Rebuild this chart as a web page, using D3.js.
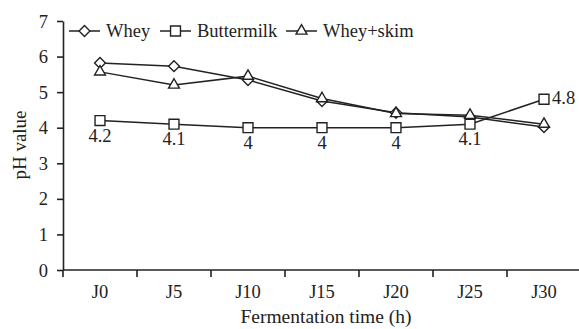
<!DOCTYPE html>
<html><head><meta charset="utf-8">
<script src="https://cdn.jsdelivr.net/npm/d3@7"></script>
<style>body{margin:0;background:#fff}svg{display:block}svg text{font-family:"Liberation Serif","Times New Roman",serif !important;fill:#222}</style>
</head><body><svg id="c" width="579" height="329" font-family="Liberation Serif"></svg>
<script>
const categories = ["J0","J5","J10","J15","J20","J25","J30"];
const whey = [5.82,5.73,5.34,4.75,4.42,4.3,4.02];
const buttermilk = [4.2,4.1,4.0,4.0,4.0,4.1,4.8];
const wheySkim = [5.57,5.2,5.45,4.82,4.4,4.35,4.1];
const buttermilkLabels = ["4.2","4.1","4","4","4","4.1","4.8"];
const yTicks = [0,1,2,3,4,5,6,7];

const FONT = "Liberation Serif";
const FS = 18.5;
const svg = d3.select("#c");
const x = d3.scaleBand().domain(categories).range([63,581]);
const y = d3.scaleLinear().domain([0,7]).range([270,21]);
const col = "#222";

// y axis
const ya = svg.append("g").attr("transform","translate(63,0)").call(d3.axisLeft(y).tickValues(yTicks).tickFormat(d3.format("d")).tickSize(6).tickSizeOuter(0));
ya.attr("font-family",FONT);
ya.select(".domain").attr("stroke",col).attr("stroke-width",1.6);
ya.selectAll(".tick line").attr("stroke",col).attr("stroke-width",1.6);
ya.selectAll(".tick text").attr("font-size",FS).attr("x",-15).attr("dy","0.33em").attr("fill",col);

// x axis
const xa = svg.append("g").attr("transform","translate(0,270)").call(d3.axisBottom(x).tickSize(0).tickSizeOuter(0));
xa.attr("font-family",FONT);
xa.select(".domain").attr("stroke",col).attr("stroke-width",1.6).attr("d","M63,0H579");
xa.selectAll(".tick text").attr("font-size",FS).attr("dy",0).attr("y",28).attr("fill",col);
// boundary ticks
svg.append("g").selectAll("line").data(categories).join("line")
  .attr("x1",d=>x(d)).attr("x2",d=>x(d)).attr("y1",270).attr("y2",277)
  .attr("stroke",col).attr("stroke-width",1.6);

svg.append("text").attr("x",326).attr("y",323).attr("text-anchor","middle").attr("font-size",19.5).text("Fermentation time (h)");
svg.append("text").attr("transform","translate(26,145) rotate(-90)").attr("text-anchor","middle").attr("font-size",19).text("pH value");

const cx = d => x(d) + x.bandwidth()/2;
const line = d3.line().x((d,i)=>cx(categories[i])).y(d=>y(d));

const symDiamond = d3.symbol().type(d3.symbolDiamond2).size(75);
const symSquare = d3.symbol().type(d3.symbolSquare2).size(125);
const symTri = d3.symbol().type(d3.symbolTriangle2).size(85);

const series = [
  {vals: whey, sym: symDiamond, name:"Whey"},
  {vals: buttermilk, sym: symSquare, name:"Buttermilk"},
  {vals: wheySkim, sym: symTri, name:"Whey+skim"}
];
series.forEach(s=>{
  svg.append("path").attr("d",line(s.vals)).attr("fill","none").attr("stroke",col).attr("stroke-width",1.5);
});
series.forEach(s=>{
  svg.append("g").selectAll("path").data(s.vals).join("path")
    .attr("transform",(d,i)=>`translate(${cx(categories[i])},${y(d)})`)
    .attr("d",s.sym()).attr("fill","#fff").attr("stroke",col).attr("stroke-width",1.4);
});

// buttermilk labels
svg.append("g").selectAll("text").data(buttermilk).join("text")
  .attr("x",(d,i)=> i===6 ? cx(categories[i])+8 : cx(categories[i]))
  .attr("y",(d,i)=> i===6 ? y(d)+5 : y(d)+21)
  .attr("text-anchor",(d,i)=> i===6 ? "start" : "middle")
  .attr("font-size",FS).text((d,i)=>buttermilkLabels[i]);

// legend
const leg = [{x:69,s:symDiamond,name:"Whey"},{x:160,s:symSquare,name:"Buttermilk"},{x:286,s:symTri,name:"Whey+skim"}];
const ly = 31;
leg.forEach(l=>{
  svg.append("line").attr("x1",l.x).attr("x2",l.x+31).attr("y1",ly).attr("y2",ly).attr("stroke",col).attr("stroke-width",1.5);
  svg.append("path").attr("transform",`translate(${l.x+15.5},${ly})`).attr("d",l.s()).attr("fill","#fff").attr("stroke",col).attr("stroke-width",1.4);
  svg.append("text").attr("x",l.x+37).attr("y",ly+5.5).attr("font-size",FS).text(l.name);
});
</script></body></html>
